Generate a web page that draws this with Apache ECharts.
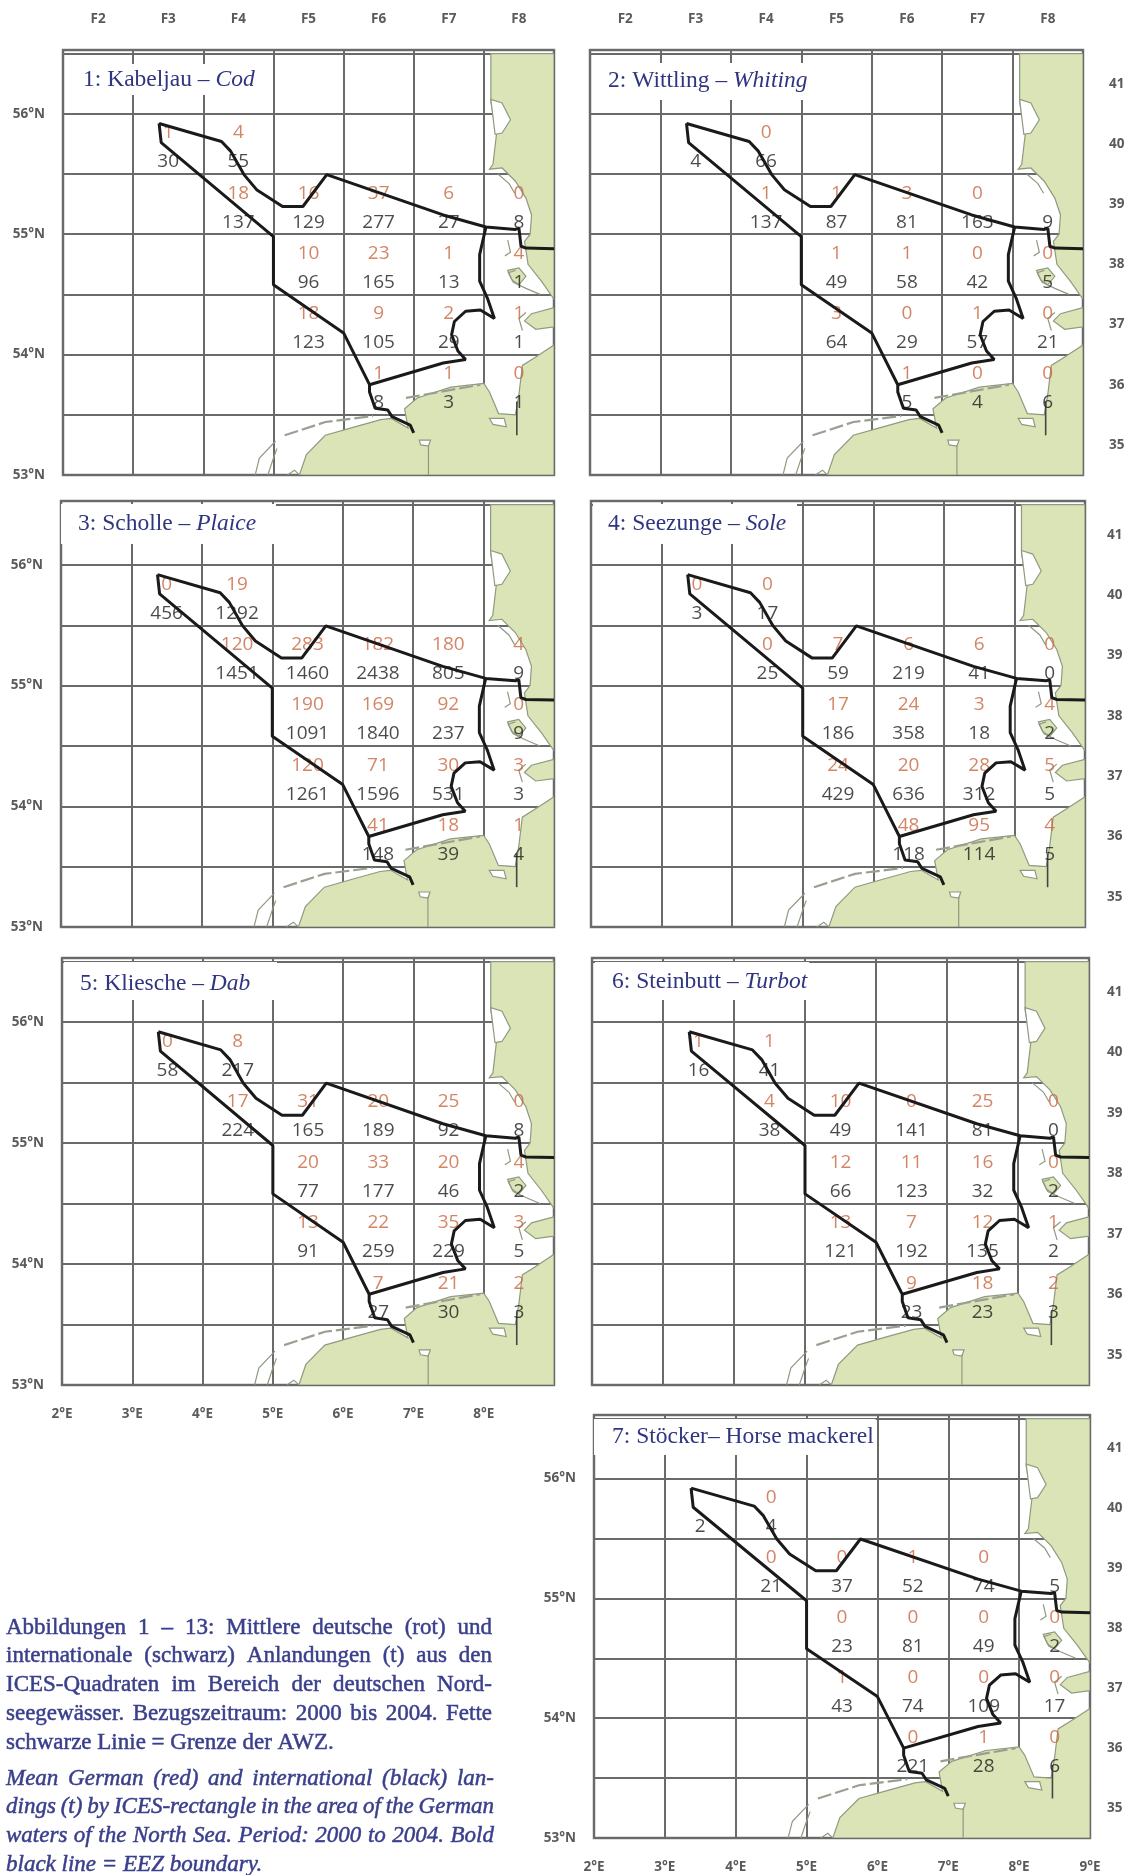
<!DOCTYPE html>
<html><head><meta charset="utf-8">
<style>html,body{margin:0;padding:0;background:#fff}#c{width:1134px;height:1875px}</style>
<script src="https://cdn.jsdelivr.net/npm/echarts@6/dist/echarts.min.js"></script>
</head><body><div id="c"></div>
<script>
// ICES rectangles, one entry per cell: [column degree (F3 = 3), row number]
const rectangles = [[3,40],[4,40],[4,39],[5,39],[6,39],[7,39],[8,39],[5,38],[6,38],[7,38],[8,38],[5,37],[6,37],[7,37],[8,37],[6,36],[7,36],[8,36]];
const titlesDe = ['1: Kabeljau – ','2: Wittling – ','3: Scholle – ','4: Seezunge – ','5: Kliesche – ','6: Steinbutt – ','7: Stöcker– '];
const titlesEn = ['Cod','Whiting','Plaice','Sole','Dab','Turbot','Horse mackerel'];
const enItalic = [true,true,true,true,true,true,false];

const codRed = [1,4,18,16,37,6,0,10,23,1,4,18,9,2,1,1,1,0];
const codBlack = [30,55,137,129,277,27,8,96,165,13,1,123,105,29,1,8,3,1];
const whitingRed = [null,0,1,1,3,0,null,1,1,0,0,3,0,1,0,1,0,0];
const whitingBlack = [4,66,137,87,81,163,9,49,58,42,5,64,29,57,21,5,4,6];
const plaiceRed = [0,19,120,283,182,180,4,190,169,92,0,120,71,30,3,41,18,1];
const plaiceBlack = [456,1292,1451,1460,2438,805,9,1091,1840,237,9,1261,1596,531,3,148,39,4];
const soleRed = [0,0,0,7,6,6,0,17,24,3,4,24,20,28,5,48,95,4];
const soleBlack = [3,17,25,59,219,41,0,186,358,18,2,429,636,312,5,118,114,5];
const dabRed = [0,8,17,31,20,25,0,20,33,20,4,13,22,35,3,7,21,2];
const dabBlack = [58,217,224,165,189,92,8,77,177,46,2,91,259,229,5,27,30,3];
const turbotRed = [1,1,4,10,0,25,0,12,11,16,0,13,7,12,1,9,18,2];
const turbotBlack = [16,41,38,49,141,81,0,66,123,32,2,121,192,135,2,23,23,3];
const mackerelRed = [null,0,0,0,1,0,null,0,0,0,0,1,0,0,0,0,1,0];
const mackerelBlack = [2,4,21,37,52,74,5,23,81,49,2,43,74,109,17,221,28,6];
const redSets = [codRed,whitingRed,plaiceRed,soleRed,dabRed,turbotRed,mackerelRed];
const blackSets = [codBlack,whitingBlack,plaiceBlack,soleBlack,dabBlack,turbotBlack,mackerelBlack];

// Geography in degrees [lon, lat]
const eezNorth = [[3.37,55.92],[4.26,55.77],[4.39,55.69],[4.58,55.495],[4.76,55.37],[5.13,55.23],[5.42,55.23],[5.76,55.495],[7.42,55.16],[8.03,55.06],[8.45,55.04],[8.5,55.05],[8.53,54.9],[8.6,54.885],[9,54.88]];
const eezEast = [[8.03,55.06],[7.94,54.83],[7.94,54.61],[8.05,54.47],[8.15,54.30],[7.95,54.37],[7.74,54.36],[7.58,54.275],[7.54,54.165],[7.63,54.03],[7.74,53.96],[7.42,53.93],[6.37,53.75]];
const eezWest = [[3.37,55.92],[3.40,55.76],[5,54.98],[5,54.58],[6,54.18],[6.37,53.75],[6.37,53.69],[6.45,53.555],[6.63,53.54],[6.69,53.485],[6.95,53.415],[7,53.35]];
const landJutland = [[9,56.5],[8.1,56.5],[8.1,56.1],[8.18,55.83],[8.13,55.58],[8.08,55.54],[8.26,55.55],[8.45,55.44],[8.6,55.3],[8.68,55.16],[8.66,55],[8.58,54.94],[8.63,54.75],[8.82,54.61],[9,54.46]];
const landDithmarschen = [[9,54.39],[8.68,54.34],[8.58,54.28],[8.74,54.21],[9,54.23]];
const landEiderstedt = [[8.34,54.7],[8.5,54.72],[8.6,54.65],[8.5,54.58],[8.4,54.62]];
const landSouth = [[9,54.08],[8.74,53.98],[8.55,53.91],[8.5,53.67],[8.45,53.5],[8.21,53.51],[8.08,53.69],[8,53.76],[7.53,53.73],[7.05,53.64],[6.87,53.55],[6.92,53.39],[6.68,53.47],[6.53,53.46],[6.16,53.4],[5.74,53.33],[5.47,53.17],[5.37,53],[9,53]];
const lakeRingkoebing = [[8.1,56.12],[8.26,56.09],[8.38,55.95],[8.26,55.84],[8.16,55.83]];
const lakeJade = [[8.08,53.47],[8.29,53.47],[8.32,53.4],[8.13,53.42]];
const lakeDollart = [[7.08,53.29],[7.24,53.29],[7.21,53.24],[7.1,53.25]];
const thinCoasts = [
  [[7.21,53.25],[7.21,53]],
  [[4.74,53],[4.8,53.14],[5.03,53.28]],
  [[4.92,53],[5.0,53.14],[5.05,53.22]],
  [[5.2,53],[5.3,53.04],[5.37,53]],
  [[8.34,54.95],[8.38,54.85],[8.3,54.82]],
  [[8.45,54.7],[8.35,54.68],[8.42,54.6],[8.6,54.55],[8.8,54.5]],
  [[8.6,54.35],[8.5,54.3],[8.55,54.2]],
  [[8.2,55.5],[8.36,55.42],[8.44,55.34]]
];
const frisianIslands = [
  [[5.16,53.33],[5.74,53.44],[6.42,53.49]],
  [[6.89,53.64],[7.95,53.75]]
];
const weser = [[8.47,53.61],[8.47,53.33]];
const mapShapes = [
  {pts:landJutland,k:'land'},{pts:landDithmarschen,k:'land'},{pts:landEiderstedt,k:'land'},{pts:landSouth,k:'land'},
  {pts:lakeRingkoebing,k:'lake'},{pts:lakeJade,k:'lake'},{pts:lakeDollart,k:'lake'}
].concat(thinCoasts.map(p=>({pts:p,k:'coast'})),frisianIslands.map(p=>({pts:p,k:'island'})),[{pts:weser,k:'river'}]);

const caption = ['Abbildungen 1 – 13: Mittlere deutsche (rot) und','internationale (schwarz) Anlandungen (t) aus den','ICES-Quadraten im Bereich der deutschen Nord-','seegewässer. Bezugszeitraum: 2000 bis 2004. Fette','schwarze Linie = Grenze der AWZ.'];
const captionEn = ['Mean German (red) and international (black) lan-','dings (t) by ICES-rectangle in the area of the German','waters of the North Sea. Period: 2000 to 2004. Bold','black line = EEZ boundary.'];

// Layout
const panels = [
 {l:63,r:554,t:50,b:475,  box:[66,62,273,97],  tx:83, ty:0, left:1,top:1,right:0,bottom:0},
 {l:590,r:1083,t:50,b:475,box:[593,61,804,102],tx:608,ty:-1,left:0,top:1,right:26,bottom:0},
 {l:61,r:554,t:501,b:927, box:[61,502,276,546],tx:78, ty:0, left:1,top:0,right:0,bottom:0},
 {l:591,r:1085,t:501,b:927,box:[593,502,797,546],tx:608,ty:0, left:0,top:0,right:22,bottom:0},
 {l:62,r:554,t:958,b:1385,box:[64,960,277,1002],tx:80,ty:3, left:1,top:0,right:0,bottom:8},
 {l:592,r:1089,t:958,b:1385,box:[595,960,808,1002],tx:612,ty:1, left:0,top:0,right:18,bottom:0},
 {l:594,r:1090,t:1415,b:1838,box:[594,1417,867,1457],tx:612,ty:0, left:1,top:0,right:17,bottom:9}
];
const BLUE='#2f357f', INK='#1d1d1d', RED='#c9673f', GRID='#6a6a6a', AXT='#5a5a5a';
const numFont='"Open Sans"', serif='"Liberation Serif"';
const TITLE_SIZE=23.5, CAP_SIZE=23;

const ctx=document.createElement('canvas').getContext('2d');
const tw=(t,f)=>{ctx.font=f;return ctx.measureText(t).width;};

const grid=[],xAxis=[],yAxis=[],series=[],title=[],graphic=[];
panels.forEach((p,i)=>{
  grid.push({left:p.l,top:p.t,width:p.r-p.l,height:p.b-p.t,show:true,borderColor:'#777',borderWidth:2.5,backgroundColor:'#fff'});
  const xi=xAxis.length, yi=yAxis.length;
  const lbl={fontFamily:numFont,fontWeight:700,fontSize:13.5,color:AXT};
  xAxis.push({type:'value',gridIndex:i,min:2,max:9,interval:1,position:'bottom',axisLine:{show:false},axisTick:{show:false},
    splitLine:{show:true,lineStyle:{color:GRID,width:2}},
    axisLabel:{show:p.bottom>0,margin:22,...lbl,formatter:v=>(v<=p.bottom?v+'°E':'')}});
  yAxis.push({type:'value',gridIndex:i,min:53,max:56.53,interval:0.5,position:'left',axisLine:{show:false},axisTick:{show:false},
    splitLine:{show:true,lineStyle:{color:GRID,width:2}},
    axisLabel:{show:!!p.left,margin:18,...lbl,formatter:v=>(Number.isInteger(v)?v+'°N':'')}});
  if(p.top){
    xAxis.push({type:'value',gridIndex:i,min:2,max:9,position:'top',axisLine:{show:false},axisTick:{show:false},splitLine:{show:false},
      axisLabel:{show:true,margin:24,...lbl,customValues:[2.5,3.5,4.5,5.5,6.5,7.5,8.5],formatter:v=>'F'+Math.floor(v)}});
  }
  if(p.right){
    yAxis.push({type:'value',gridIndex:i,min:53,max:56.53,position:'right',axisLine:{show:false},axisTick:{show:false},splitLine:{show:false},
      axisLabel:{show:true,margin:p.right,...lbl,customValues:[53.25,53.75,54.25,54.75,55.25,55.75,56.25],formatter:v=>String(35+Math.floor((v-53)*2))}});
  }
  const ref={xAxisIndex:xi,yAxisIndex:yi,silent:true,animation:false};
  // map
  series.push({...ref,type:'custom',z:2,coordinateSystem:'cartesian2d',data:mapShapes.map((s,k)=>[s.pts[0][0],s.pts[0][1],k]),
    clip:true,encode:{x:0,y:1},
    renderItem:(params,api)=>{
      const s=mapShapes[api.value(2)];
      const points=s.pts.map(q=>api.coord(q));
      if(s.k==='land') return {type:'polygon',shape:{points},style:{fill:'#dae4b6',stroke:'#8e9b80',lineWidth:1.2}};
      if(s.k==='lake') return {type:'polygon',shape:{points},style:{fill:'#fff',stroke:'#8e9b80',lineWidth:1.2}};
      if(s.k==='coast') return {type:'polyline',shape:{points},style:{fill:null,stroke:'#8e9b80',lineWidth:1.2}};
      if(s.k==='island') return {type:'polyline',shape:{points},style:{fill:null,stroke:'#9a9f92',lineWidth:2.2,lineDash:[14,4]}};
      return {type:'polyline',shape:{points},style:{fill:null,stroke:'#444',lineWidth:1.6}};
    }});
  // values
  const cells=(vals,shift)=>rectangles.map((c,k)=>vals[k]===null?null:[c[0]+0.5,53+(c[1]-35)*0.5+0.25+shift,vals[k]]).filter(Boolean);
  const lab=col=>({show:true,position:'inside',formatter:d=>String(d.value[2]),fontFamily:numFont,fontSize:19,fontWeight:500,color:col});
  series.push({...ref,type:'scatter',z:3,symbolSize:1,itemStyle:{color:'transparent'},data:cells(redSets[i],0.09),label:lab(RED)});
  series.push({...ref,type:'scatter',z:3,symbolSize:1,itemStyle:{color:'transparent'},data:cells(blackSets[i],-0.15),label:lab(INK)});
  // EEZ
  [eezNorth,eezEast,eezWest].forEach(path=>series.push({...ref,type:'line',z:4,data:path,showSymbol:false,symbol:'none',lineStyle:{color:'#1a1a1a',width:3},clip:false}));
  // title
  const fontA=`${TITLE_SIZE}px ${serif}`, fontB=`${enItalic[i]?'italic ':''}${TITLE_SIZE}px ${serif}`;
  const w=tw(titlesDe[i],fontA)+tw(titlesEn[i],fontB);
  const [bl,bt,br,bb]=p.box;
  const padL=p.tx-bl, padR=Math.max(2,br-bl-padL-w), h=Math.round(TITLE_SIZE+4);
  const padT=Math.round((bb-bt-h)/2)+p.ty;
  title.push({z:10,left:bl,top:bt,backgroundColor:'#fff',padding:[padT,padR,bb-bt-h-padT,padL],
    text:`{a|${titlesDe[i]}}{b|${titlesEn[i]}}`,
    textStyle:{rich:{a:{fontFamily:serif,fontWeight:'normal',fontSize:TITLE_SIZE,color:BLUE,lineHeight:h},b:{fontFamily:serif,fontWeight:'normal',fontSize:TITLE_SIZE,fontStyle:enItalic[i]?'italic':'normal',color:BLUE,lineHeight:h}}}});
});

// caption, justified word by word
function addLines(lines,startY,step,style,right){
  const font=`${style} ${CAP_SIZE}px ${serif}`;
  lines.forEach((ln,idx)=>{
    const words=ln.split(' ');
    const total=words.reduce((a,w)=>a+tw(w,font),0);
    const free=(idx===lines.length-1);
    const gap=free?tw(' ',font):(right-6-total)/(words.length-1);
    let x=6;
    words.forEach(w=>{
      graphic.push({type:'text',x:x,y:startY+idx*step,style:{text:w,fill:'#3a3f8c',stroke:'#3a3f8c',lineWidth:0.5,font:font,textBaseline:'middle'}});
      x+=tw(w,font)+gap;
    });
  });
}
addLines(caption,1616,28.8,'normal',492);
addLines(captionEn,1767,28.7,'italic',494);

const chart=echarts.init(document.getElementById('c'));
chart.setOption({animation:false,backgroundColor:'#fff',grid,xAxis,yAxis,series,title,graphic});
</script></body></html>
